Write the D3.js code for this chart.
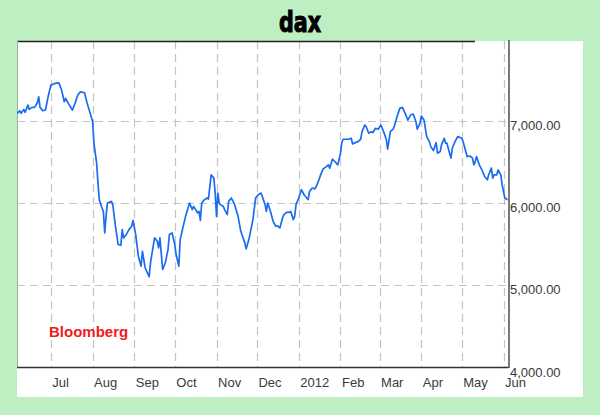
<!DOCTYPE html>
<html>
<head>
<meta charset="utf-8">
<script src="https://cdn.jsdelivr.net/npm/d3@7"></script>
<style>
  html, body { margin: 0; padding: 0; background: #bdefc2; }
  svg { display: block; }
</style>
</head>
<body>
<svg id="chart" width="600" height="415"></svg>
<script>
// ---------- data ----------
const title = "dax";
const source = "Bloomberg";
const dates = [
"2011-06-06","2011-06-08","2011-06-09","2011-06-11","2011-06-12","2011-06-14","2011-06-15","2011-06-17","2011-06-19","2011-06-21",
"2011-06-22","2011-06-23","2011-06-25","2011-06-27","2011-06-29","2011-07-01","2011-07-04","2011-07-07","2011-07-09","2011-07-11",
"2011-07-12","2011-07-14","2011-07-17","2011-07-19","2011-07-21","2011-07-23","2011-07-26","2011-07-28","2011-07-31","2011-08-01",
"2011-08-02","2011-08-04","2011-08-05","2011-08-06","2011-08-08","2011-08-09","2011-08-10","2011-08-11","2011-08-12","2011-08-15",
"2011-08-16","2011-08-18","2011-08-20","2011-08-22","2011-08-23","2011-08-24","2011-08-26","2011-08-28","2011-08-30","2011-08-31",
"2011-09-02","2011-09-04","2011-09-06","2011-09-07","2011-09-09","2011-09-12","2011-09-13","2011-09-16","2011-09-18","2011-09-19",
"2011-09-20","2011-09-22","2011-09-24","2011-09-26","2011-09-27","2011-09-29","2011-10-01","2011-10-02","2011-10-04","2011-10-05",
"2011-10-07","2011-10-09","2011-10-12","2011-10-14","2011-10-15","2011-10-18","2011-10-19","2011-10-20","2011-10-21","2011-10-23",
"2011-10-25","2011-10-26","2011-10-28","2011-10-30","2011-10-31","2011-11-01","2011-11-02","2011-11-03","2011-11-04","2011-11-06",
"2011-11-07","2011-11-09","2011-11-10","2011-11-12","2011-11-14","2011-11-17","2011-11-19","2011-11-22","2011-11-23","2011-11-25",
"2011-11-28","2011-11-30","2011-12-02","2011-12-04","2011-12-05","2011-12-07","2011-12-08","2011-12-09","2011-12-11","2011-12-13",
"2011-12-15","2011-12-16","2011-12-18","2011-12-20","2011-12-21","2011-12-23","2011-12-25","2011-12-26","2011-12-28","2011-12-29",
"2011-12-30","2012-01-01","2012-01-03","2012-01-05","2012-01-08","2012-01-09","2012-01-11","2012-01-13","2012-01-14","2012-01-16",
"2012-01-17","2012-01-19","2012-01-21","2012-01-23","2012-01-24","2012-01-26","2012-01-28","2012-01-30","2012-02-01","2012-02-02",
"2012-02-03","2012-02-05","2012-02-07","2012-02-09","2012-02-10","2012-02-12","2012-02-14","2012-02-16","2012-02-17","2012-02-19",
"2012-02-20","2012-02-22","2012-02-24","2012-02-25","2012-02-27","2012-02-29","2012-03-02","2012-03-04","2012-03-06","2012-03-07",
"2012-03-09","2012-03-11","2012-03-12","2012-03-14","2012-03-16","2012-03-18","2012-03-20","2012-03-22","2012-03-24","2012-03-26",
"2012-03-28","2012-03-29","2012-03-31","2012-04-01","2012-04-03","2012-04-05","2012-04-07","2012-04-08","2012-04-10","2012-04-12",
"2012-04-13","2012-04-15","2012-04-16","2012-04-18","2012-04-19","2012-04-20","2012-04-21","2012-04-23","2012-04-24","2012-04-26",
"2012-04-28","2012-05-01","2012-05-02","2012-05-04","2012-05-05","2012-05-07","2012-05-09","2012-05-10","2012-05-11","2012-05-12",
"2012-05-14","2012-05-16","2012-05-18","2012-05-20","2012-05-21","2012-05-23","2012-05-24","2012-05-25","2012-05-27","2012-05-28",
"2012-05-30","2012-05-31","2012-06-02","2012-06-04"
];
const values = [
7090,7121,7090,7138,7102,7190,7138,7162,7162,7218,
7291,7162,7121,7130,7291,7433,7454,7461,7373,7231,
7272,7211,7130,7211,7312,7352,7340,7211,7049,6988,
6726,6483,6240,6038,5937,5896,5634,5835,5997,6017,
5977,5714,5492,5483,5673,5573,5613,5673,5714,5786,
5613,5350,5228,5410,5209,5100,5270,5573,5532,5451,
5573,5188,5270,5431,5613,5634,5492,5370,5228,5552,
5694,5835,5997,5916,5956,5876,5896,5786,5997,6038,
6058,6046,6341,6301,6119,5835,6119,5997,5977,5956,
5916,5856,6017,6058,5997,5835,5653,5512,5439,5552,
5795,6058,6098,6119,6078,5977,5896,5997,5896,5774,
5714,5720,5694,5816,5856,5883,5883,5896,5795,5835,
5977,6058,6159,6098,6038,6138,6180,6170,6199,6280,
6328,6410,6434,6462,6422,6531,6500,6462,6604,6733,
6774,6774,6774,6786,6717,6733,6745,6774,6867,6948,
6927,6847,6867,6854,6908,6896,6948,6867,6774,6653,
6867,6896,6936,7049,7150,7162,7090,7008,7069,7081,
6988,6896,6968,7057,7008,6806,6745,6684,6636,6733,
6604,6624,6705,6786,6726,6726,6665,6544,6665,6745,
6806,6786,6745,6624,6563,6570,6544,6462,6502,6563,
6462,6402,6320,6280,6341,6422,6301,6341,6341,6402,
6341,6220,6058,6038
];
const monthTicks = ["2011-07-01","2011-08-01","2011-09-01","2011-10-01","2011-11-01","2011-12-01",
                    "2012-01-01","2012-02-01","2012-03-01","2012-04-01","2012-05-01","2012-06-01"];
const monthLabels = ["Jul","Aug","Sep","Oct","Nov","Dec","2012","Feb","Mar","Apr","May","Jun"];
const yTicks = [4000, 5000, 6000, 7000];
const yGrid = [5000, 6000, 7000];

// ---------- layout ----------
const W = 600, H = 415;
const plot = { left: 17, right: 508.5, top: 41, bottom: 367 };
const panel = { left: 17, right: 583, top: 41, bottom: 397 };

const parse = d3.utcParse("%Y-%m-%d");
const data = dates.map((d, i) => ({ date: parse(d), value: values[i] }));

const x = d3.scaleUtc()
  .domain([parse("2011-06-01"), parse("2012-06-01")])
  .range([10.4, 503.5]);
const y = d3.scaleLinear()
  .domain([4000, 7000])
  .range([367, 120.7]);

const svg = d3.select("#chart");

// background
svg.append("rect").attr("width", W).attr("height", H).attr("fill", "#bdefc2");
svg.append("rect")
  .attr("x", panel.left).attr("y", panel.top)
  .attr("width", panel.right - panel.left).attr("height", panel.bottom - panel.top)
  .attr("fill", "#ffffff");

// title
svg.append("text")
  .attr("transform", "translate(300,32) scale(0.92,1.12)")
  .attr("text-anchor", "middle")
  .attr("font-family", "'Liberation Sans Narrow', 'DejaVu Sans Condensed', sans-serif")
  .attr("font-weight", "bold")
  .attr("font-size", 25)
  .attr("fill", "#000")
  .attr("stroke", "#000").attr("stroke-width", 0.9)
  .text(title);

// grid
const grid = svg.append("g").attr("stroke", "#c4c4c4").attr("stroke-width", 1.2)
  .attr("stroke-dasharray", "8,5");
grid.selectAll("line.v").data(monthTicks.map(parse)).join("line")
  .attr("class", "v")
  .attr("x1", d => Math.round(x(d)) + 0.5).attr("x2", d => Math.round(x(d)) + 0.5)
  .attr("y1", plot.top).attr("y2", plot.bottom);
grid.selectAll("line.h").data(yGrid).join("line")
  .attr("class", "h")
  .attr("x1", plot.left).attr("x2", plot.right)
  .attr("y1", d => Math.round(y(d)) + 0.5).attr("y2", d => Math.round(y(d)) + 0.5);

// frame lines
svg.append("line").attr("x1", plot.left).attr("x2", 475).attr("y1", plot.top + 0.5).attr("y2", plot.top + 0.5)
  .attr("stroke", "#222").attr("stroke-width", 1.5);
svg.append("line").attr("x1", plot.left + 0.5).attr("x2", plot.left + 0.5).attr("y1", plot.top).attr("y2", plot.bottom)
  .attr("stroke", "#8fb59a").attr("stroke-width", 1);

// line
svg.append("clipPath").attr("id", "clip").append("rect")
  .attr("x", plot.left).attr("y", plot.top)
  .attr("width", plot.right - plot.left).attr("height", plot.bottom - plot.top);
const line = d3.line().x(d => x(d.date)).y(d => y(d.value)).curve(d3.curveLinear);
svg.append("path")
  .datum(data)
  .attr("clip-path", "url(#clip)")
  .attr("fill", "none")
  .attr("stroke", "#1a6cf0")
  .attr("stroke-width", 1.7)
  .attr("stroke-linejoin", "round")
  .attr("d", line);

// bottom axis
const xAxis = d3.axisBottom(x)
  .tickValues(monthTicks.map(parse))
  .tickSize(0)
  .tickFormat((d, i) => monthLabels[i]);
const gx = svg.append("g").attr("transform", `translate(0,${plot.bottom})`).call(xAxis);
gx.select(".domain").remove();
svg.append("line").attr("x1", plot.left).attr("x2", plot.right).attr("y1", plot.bottom + 0.5).attr("y2", plot.bottom + 0.5)
  .attr("stroke", "#333").attr("stroke-width", 1.3);
gx.selectAll("text")
  .attr("text-anchor", "start")
  .attr("x", 1).attr("y", 19.5).attr("dy", 0)
  .attr("font-family", "'Liberation Sans', Arial, sans-serif")
  .attr("font-size", 13)
  .attr("fill", "#3a3a3a");

// right axis
const yAxis = d3.axisRight(y)
  .tickValues(yTicks)
  .tickSize(0)
  .tickFormat(d3.format(",.2f"));
const gy = svg.append("g").attr("transform", `translate(${plot.right},0)`).call(yAxis);
gy.select(".domain").remove();
svg.append("line").attr("x1", plot.right + 0.5).attr("x2", plot.right + 0.5).attr("y1", plot.top - 1).attr("y2", plot.bottom + 1)
  .attr("stroke", "#333").attr("stroke-width", 1.3);
gy.selectAll("text")
  .attr("x", 1.5).attr("dy", 0).attr("y", 9)
  .attr("font-family", "'Liberation Sans', Arial, sans-serif")
  .attr("font-size", 13)
  .attr("fill", "#3a3a3a");

// source label
svg.append("text")
  .attr("x", 49).attr("y", 337)
  .attr("font-family", "'Liberation Sans', Arial, sans-serif")
  .attr("font-weight", "bold")
  .attr("font-size", 15)
  .attr("fill", "#ee1c1c")
  .text(source);
</script>
</body>
</html>
